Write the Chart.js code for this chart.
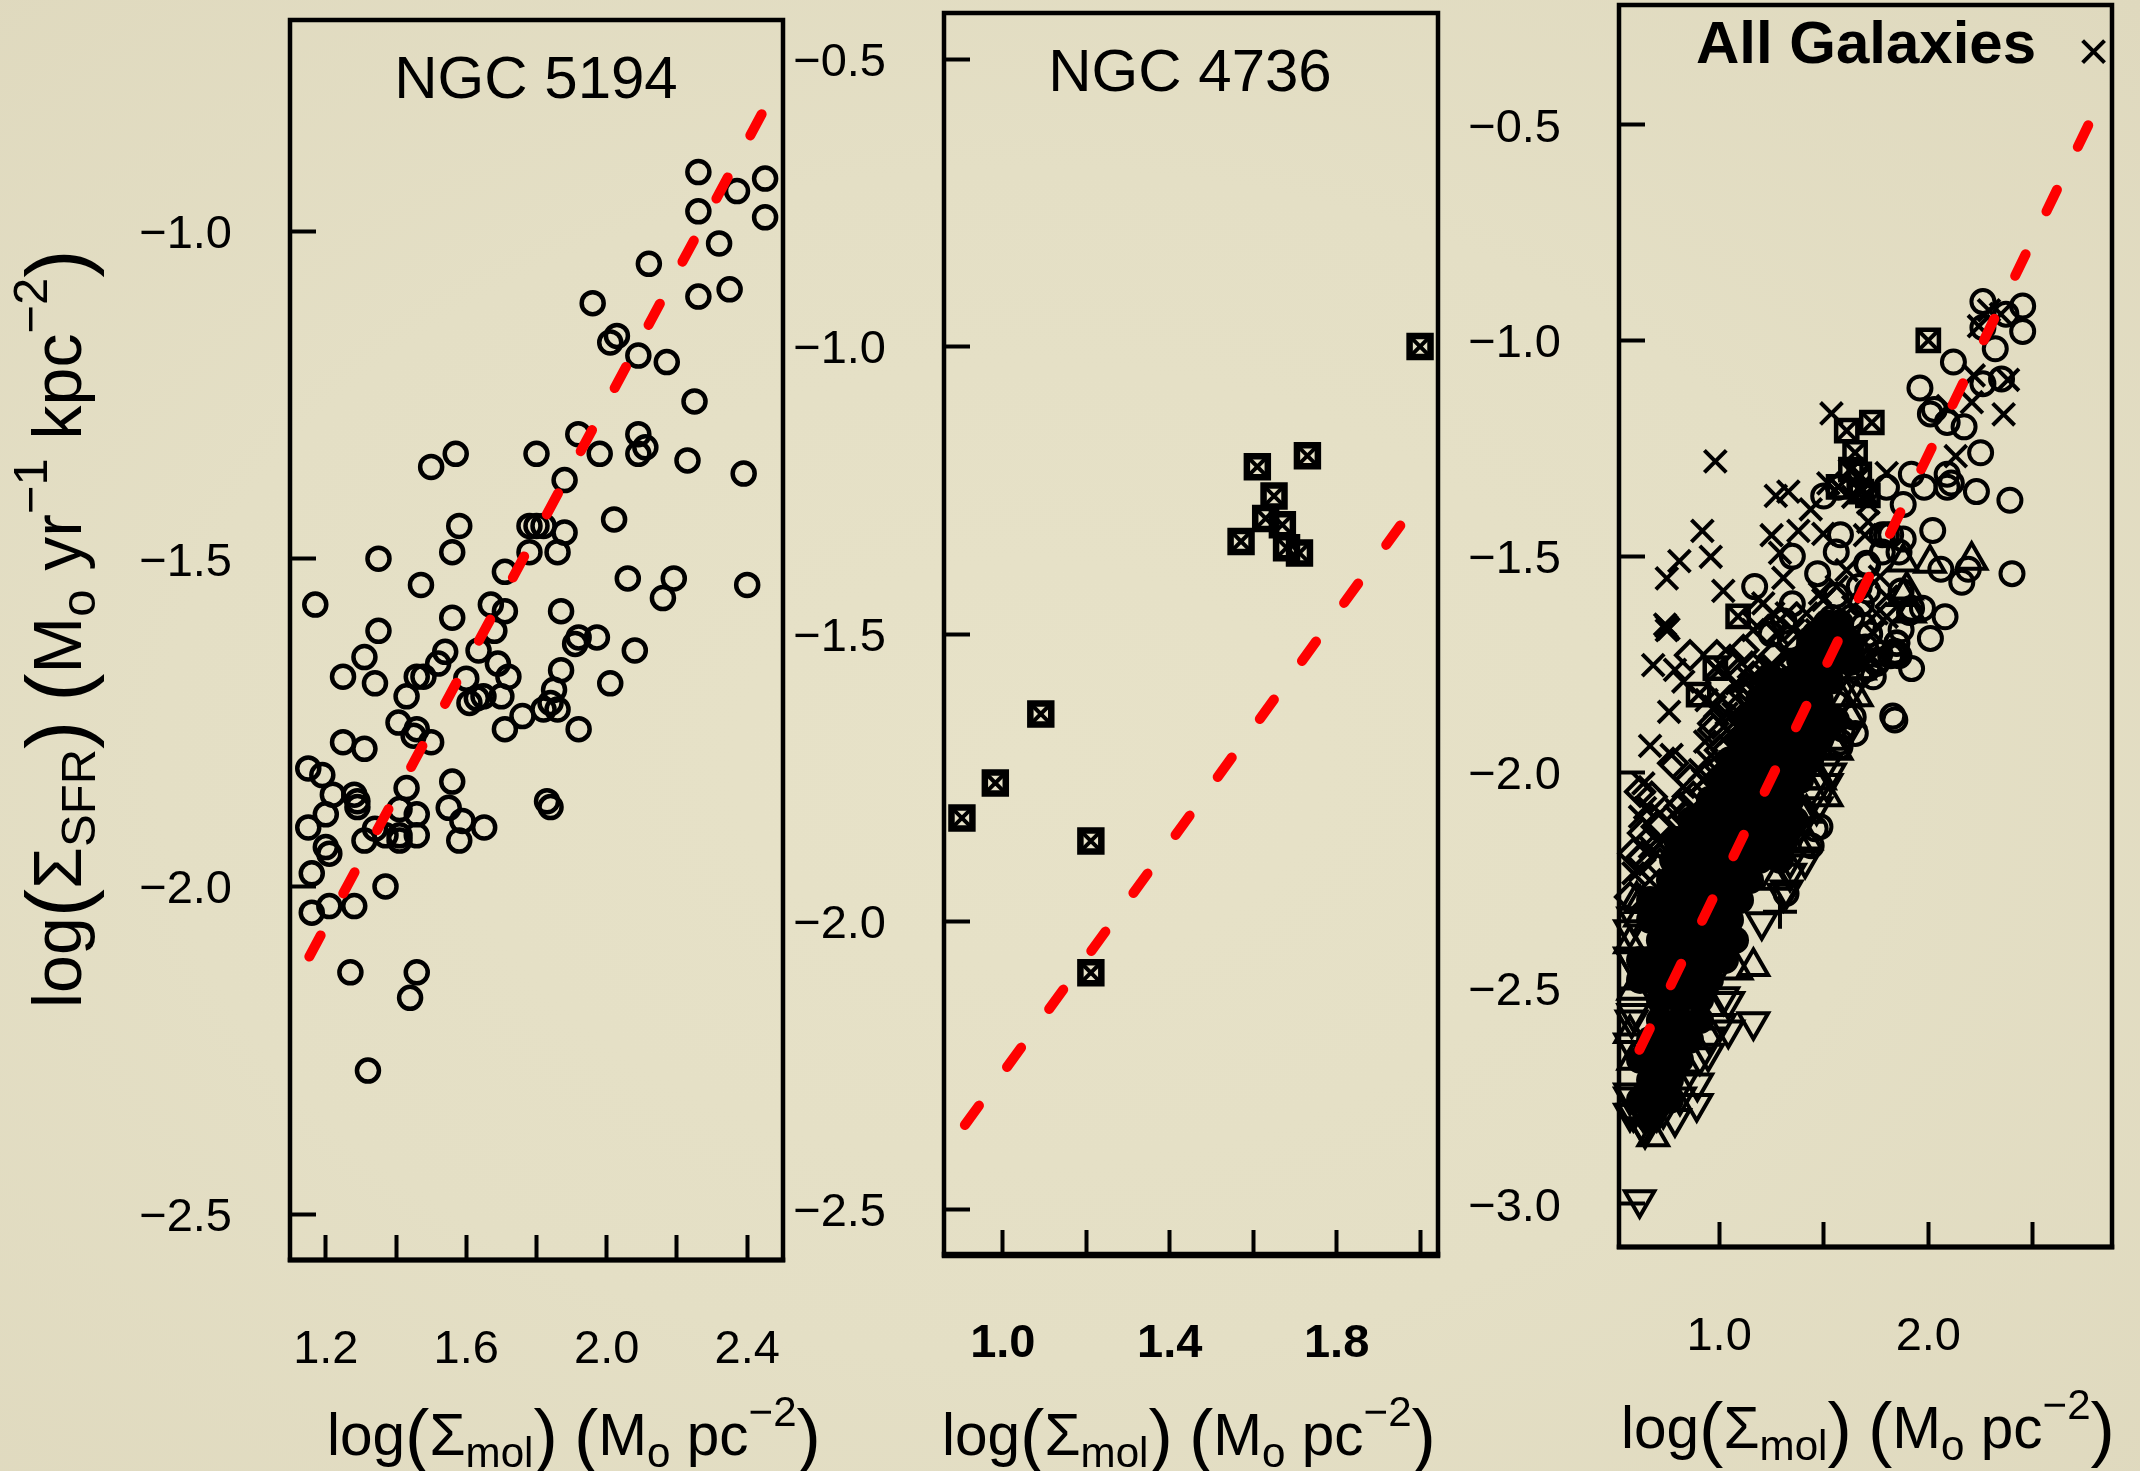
<!DOCTYPE html>
<html>
<head>
<meta charset="utf-8">
<title>Star formation vs molecular gas</title>
<script src="https://cdn.jsdelivr.net/npm/chart.js@4"></script>
<style>
  html, body { margin: 0; width: 2140px; height: 1471px; overflow: hidden; }
  body { background: radial-gradient(ellipse at 48% 52%, #e7e2c8 0%, #e4dfc5 55%, #dfd9be 100%); }
  canvas { position: absolute; top: -40px; }
</style>
</head>
<body>
<canvas id="panel5194"></canvas>
<canvas id="panel4736"></canvas>
<canvas id="panelAll"></canvas>
<script>
/* values, [log sigma mol, log sigma sfr] */
const circles5194 = [
  [2.261,-0.910],[2.451,-0.920],[2.371,-0.939],[2.261,-0.970],[2.451,-0.979],[2.320,-1.019],[2.120,-1.050],
  [2.261,-1.100],[2.350,-1.089],[1.960,-1.110],[2.029,-1.160],[2.010,-1.170],[2.090,-1.190],[2.171,-1.200],
  [2.250,-1.260],[1.919,-1.310],[1.980,-1.340],[2.090,-1.310],[2.110,-1.330],[2.090,-1.340],[2.230,-1.350],
  [2.390,-1.370],[1.800,-1.340],[1.570,-1.340],[1.500,-1.360],[1.880,-1.380],[1.580,-1.450],[1.780,-1.450],
  [1.800,-1.450],[1.820,-1.450],[1.880,-1.460],[2.021,-1.440],[1.780,-1.490],[1.860,-1.490],[1.560,-1.490],
  [1.350,-1.500],[1.710,-1.520],[1.471,-1.540],[2.060,-1.530],[2.191,-1.530],[2.160,-1.560],[2.400,-1.540],
  [1.170,-1.570],[1.670,-1.570],[1.710,-1.580],[1.870,-1.580],[1.560,-1.590],[1.350,-1.610],[1.680,-1.610],
  [1.635,-1.640],[1.310,-1.650],[1.249,-1.680],[1.340,-1.690],[1.540,-1.642],[1.520,-1.660],[1.459,-1.680],
  [1.478,-1.680],[1.690,-1.660],[1.720,-1.680],[1.600,-1.683],[1.430,-1.710],[1.910,-1.630],[1.920,-1.620],
  [1.972,-1.620],[2.080,-1.640],[1.870,-1.670],[2.010,-1.690],[1.850,-1.700],[1.840,-1.720],[1.820,-1.730],
  [1.860,-1.730],[1.760,-1.740],[1.710,-1.760],[1.920,-1.760],[1.700,-1.710],[1.649,-1.710],[1.630,-1.713],
  [1.609,-1.720],[1.407,-1.750],[1.459,-1.760],[1.450,-1.770],[1.500,-1.780],[1.249,-1.780],[1.310,-1.790],
  [1.430,-1.850],[1.560,-1.840],[1.150,-1.820],[1.190,-1.830],[1.220,-1.860],[1.281,-1.860],[1.290,-1.870],
  [1.290,-1.879],[1.200,-1.890],[1.150,-1.910],[1.550,-1.880],[1.589,-1.900],[1.651,-1.910],[1.580,-1.930],
  [1.410,-1.882],[1.459,-1.890],[1.459,-1.922],[1.410,-1.922],[1.410,-1.930],[1.370,-1.922],[1.340,-1.912],
  [1.310,-1.930],[1.200,-1.940],[1.210,-1.950],[1.830,-1.870],[1.840,-1.879],[1.160,-1.980],[1.370,-2.000],
  [1.210,-2.030],[1.281,-2.030],[1.160,-2.040],[1.270,-2.131],[1.459,-2.131],[1.440,-2.170],[1.320,-2.281]
];
const squares4736 = [
  [2.000,-1.000],[1.730,-1.190],[1.610,-1.209],[1.650,-1.260],[1.630,-1.299],[1.670,-1.310],[1.571,-1.339],
  [1.680,-1.350],[1.711,-1.359],[1.091,-1.639],[0.982,-1.759],[0.902,-1.820],[1.211,-1.860],[1.211,-2.089]
];
const crossesAll = [
  [2.790,-0.331],[2.217,-1.081],[2.381,-1.091],[2.208,-1.143],[2.360,-1.171],[2.093,-1.152],[2.131,-1.268],
  [2.290,-0.930],[2.347,-0.939],[2.242,-0.967],[1.537,-1.169],[0.982,-1.280],[1.271,-1.360],[1.331,-1.350],
  [1.438,-1.391],[1.522,-1.331],[1.801,-1.307],[0.920,-1.441],[0.960,-1.501],[0.810,-1.511],[0.750,-1.551],
  [1.020,-1.580],[1.251,-1.451],[1.379,-1.441],[1.498,-1.448],[1.291,-1.492],[1.307,-1.550],[1.713,-1.420],
  [1.697,-1.451],[0.750,-1.663],[0.750,-1.671],[0.742,-1.658],[0.758,-1.668],[0.685,-1.752],[0.789,-1.763],
  [0.829,-1.790],[0.761,-1.860],[0.670,-1.939],[0.773,-1.960],[0.933,-1.929],[0.829,-2.034],[0.638,-2.026],
  [0.646,-2.083],[0.980,-1.848],[1.004,-1.883],[1.211,-1.609],[1.259,-1.632],[1.323,-1.632],[1.163,-1.671],
  [1.275,-1.678],[1.355,-1.671],[1.418,-1.632],[1.498,-1.601],[1.562,-1.570],[1.482,-1.586],[1.609,-1.532],
  [1.769,-1.547],[1.801,-1.593],[1.753,-1.632],[1.801,-1.640],[1.737,-1.678],[1.705,-1.748],[1.466,-1.671],
  [1.546,-1.648],[1.641,-1.617],[1.625,-1.300],[1.673,-1.316],[1.705,-1.354],[1.641,-1.362],[1.570,-1.339],
  [1.713,-1.377],[1.673,-1.339],[1.004,-1.825],[1.068,-1.864],[1.100,-1.902],[0.908,-1.995],[0.717,-2.095],
  [0.908,-2.065],[0.622,-2.227],[0.669,-2.250],
  [0.940,-1.833],[1.084,-1.794],[1.243,-1.763],[1.386,-1.740],[1.195,-1.818],[1.036,-1.864],[1.052,-1.910],
  [0.940,-1.972],[0.924,-2.018],[0.797,-2.088],[0.669,-2.173],[0.733,-2.157],[1.084,-1.879],[1.227,-1.794],
  [0.622,-2.103],[0.590,-2.234]
];
const diamondsAll = [
  [0.861,-1.729],[0.989,-1.729],[1.116,-1.717],[1.187,-1.632],[1.235,-1.671],[1.156,-1.756],[1.091,-1.771],
  [1.211,-1.763],[1.124,-1.817],[0.622,-2.045],[0.678,-2.057],[0.780,-1.979],[0.636,-2.141],[0.631,-2.196],
  [0.702,-2.126],[0.861,-2.018],[1.259,-1.732],[1.370,-1.717],[1.323,-1.756],[1.227,-1.779],[1.131,-1.802],
  [1.052,-1.740],[0.972,-1.902],[1.036,-1.949],[0.988,-2.018],[0.813,-2.080],[0.669,-2.157],[0.717,-2.211],
  [0.781,-2.165],
  [1.004,-1.794],[1.163,-1.779],[1.323,-1.748],[1.116,-1.841],[0.972,-1.887],[1.004,-1.949],[1.004,-1.987],
  [0.877,-2.057],[0.717,-2.126],[0.622,-2.203],[0.845,-2.103],[1.147,-1.864],[1.291,-1.779],[1.434,-1.725],
  [0.590,-2.188],[0.574,-2.289]
];
const trianglesUpAll = [
  [2.207,-1.509],[2.008,-1.516],[1.880,-1.513],[1.897,-1.578],[1.912,-1.631],[1.164,-2.450],[0.685,-2.844],
  [1.658,-1.825],[1.514,-2.057],[1.880,-1.593],[1.546,-1.926],[1.609,-1.825],[1.418,-2.157],[1.084,-2.458],
  [0.606,-2.296],[0.622,-2.335],[0.622,-2.304],[0.590,-2.505],[0.574,-2.605],[0.590,-2.667],[0.574,-2.397],
  [1.625,-1.872],[1.562,-1.949],[1.482,-2.018],[1.418,-2.095],[1.386,-2.173],[1.275,-2.250],[1.673,-1.763]
];
const trianglesDownAll = [
  [1.164,-2.578],[1.044,-2.597],[1.044,-2.531],[0.948,-2.651],[0.896,-2.720],[0.893,-2.767],[0.789,-2.802],
  [1.204,-2.346],[1.307,-2.280],[0.646,-2.829],[0.620,-2.990],[0.574,-2.790],[0.574,-2.365],[0.582,-2.574],
  [0.574,-2.627],[0.574,-2.743],[0.636,-2.790],[0.702,-2.790],[0.582,-2.435],[1.530,-2.002],[1.411,-2.203],
  [1.323,-2.273],[1.514,-2.026],[1.466,-2.080],[1.339,-2.234],[1.020,-2.520],[1.004,-2.582],[0.956,-2.613],
  [0.908,-2.659],[0.829,-2.713],[0.813,-2.752],[0.733,-2.783],[0.590,-2.335],[0.574,-2.428],[0.590,-2.559],
  [0.574,-2.752],[0.590,-2.790],[0.638,-2.783],[0.701,-2.783],[0.638,-2.821],[0.669,-2.744],
  [1.609,-1.910],[1.514,-1.980],[1.450,-2.057],[1.386,-2.126],[1.339,-2.203],[1.641,-1.802]
];
const extraCirclesAll = [
  [1.705,-1.516],[1.769,-1.725],[1.849,-1.702],[1.849,-1.725],[1.578,-1.941],[1.641,-1.872],[1.482,-2.126],
  [1.673,-1.771],[1.753,-1.748],[1.833,-1.725],[1.737,-1.779]
];
const plusesAll = [[1.291,-2.323]];
/* overplotted part of the All Galaxies cloud, single symbols cannot be told apart here */
const solidCoreAll = [
  [1.514,-1.655],[1.578,-1.655],[1.625,-1.700],[1.625,-1.745],
  [1.435,-1.694],[1.530,-1.694],
  [1.387,-1.740],[1.482,-1.740],[1.578,-1.740],
  [1.243,-1.786],[1.339,-1.786],[1.435,-1.786],[1.530,-1.786],
  [1.195,-1.833],[1.291,-1.833],[1.387,-1.833],[1.482,-1.833],
  [1.148,-1.879],[1.243,-1.879],[1.339,-1.879],[1.435,-1.879],[1.530,-1.879],[1.558,-1.879],
  [1.100,-1.925],[1.195,-1.925],[1.291,-1.925],[1.387,-1.925],[1.482,-1.925],
  [1.052,-1.972],[1.148,-1.972],[1.243,-1.972],[1.339,-1.972],[1.435,-1.972],
  [1.004,-2.018],[1.100,-2.018],[1.195,-2.018],[1.291,-2.018],[1.387,-2.018],
  [0.956,-2.064],[1.052,-2.064],[1.148,-2.064],[1.243,-2.064],[1.339,-2.064],
  [0.866,-2.111],[0.909,-2.111],[1.004,-2.111],[1.100,-2.111],[1.195,-2.111],[1.291,-2.111],[1.363,-2.111],
  [0.799,-2.157],[0.861,-2.157],[0.956,-2.157],[1.052,-2.157],[1.148,-2.157],[1.243,-2.157],[1.315,-2.157],
  [0.780,-2.203],[0.813,-2.203],[0.909,-2.203],[1.004,-2.203],[1.100,-2.203],[1.195,-2.203],[1.291,-2.203],
  [0.765,-2.250],[0.861,-2.250],[0.956,-2.250],[1.052,-2.250],[1.148,-2.250],
  [0.670,-2.296],[0.741,-2.296],[0.813,-2.296],[0.909,-2.296],[1.004,-2.296],[1.100,-2.296],
  [0.670,-2.342],[0.765,-2.342],[0.861,-2.342],[0.956,-2.342],[1.052,-2.342],
  [0.717,-2.389],[0.813,-2.389],[0.909,-2.389],[1.004,-2.389],[1.076,-2.389],
  [0.622,-2.435],[0.670,-2.435],[0.765,-2.435],[0.861,-2.435],[0.956,-2.435],[1.028,-2.435],
  [0.622,-2.481],[0.670,-2.481],[0.765,-2.481],[0.861,-2.481],[0.956,-2.481],
  [0.717,-2.527],[0.813,-2.527],[0.909,-2.527],
  [0.717,-2.574],[0.813,-2.574],[0.909,-2.574],
  [0.670,-2.620],[0.765,-2.620],[0.861,-2.620],
  [0.622,-2.666],[0.717,-2.666],[0.813,-2.666],
  [0.670,-2.713],[0.765,-2.713],
  [0.622,-2.759],[0.693,-2.759],[0.765,-2.759],
  [0.670,-2.805]
];

const fitX5194 = [1.153, 2.447];
const fitY5194 = [-2.107, -0.816];
const fitX4736 = [0.909, 1.958];
const fitY4736 = [-2.354, -1.306];
const fitXAll = [0.619, 2.769];
const fitYAll = [-2.643, -0.497];

const xTicks5194 = [1.2, 1.4, 1.6, 1.8, 2.0, 2.2, 2.4];
const xLabels5194 = ["1.2", "", "1.6", "", "2.0", "", "2.4"];
const yTicks5194 = [-1.0, -1.5, -2.0, -2.5];
const yLabels5194 = ["−1.0", "−1.5", "−2.0", "−2.5"];

const xTicks4736 = [1.0, 1.2, 1.4, 1.6, 1.8, 2.0];
const xLabels4736 = ["1.0", "", "1.4", "", "1.8", ""];
const yTicks4736 = [-0.5, -1.0, -1.5, -2.0, -2.5];
const yLabels4736 = ["−0.5", "−1.0", "−1.5", "−2.0", "−2.5"];

const xTicksAll = [1.0, 1.5, 2.0, 2.5];
const xLabelsAll = ["1.0", "", "2.0", ""];
const yTicksAll = [-0.5, -1.0, -1.5, -2.0, -2.5, -3.0];
const yLabelsAll = ["−0.5", "−1.0", "−1.5", "−2.0", "−2.5", "−3.0"];

const FONT = "'Liberation Sans'";
const TOP_SHIFT = 40; // canvases start above the page, the layout keeps a minimum top margin

/* axis titles, pieces of different size: s = size factor, d = shift down in em */
const xTitleRuns = [
  { t: "log" }, { t: "(", s: 1.25, d: 0.08 }, { t: "Σ" }, { t: "mol", s: 0.72, d: 0.2 }, { t: ")", s: 1.25, d: 0.08 },
  { t: " " }, { t: "(", s: 1.25, d: 0.08 }, { t: "M" }, { t: "o", s: 0.72, d: 0.2 }, { t: " pc" },
  { t: "−2", s: 0.72, d: -0.5 }, { t: ")", s: 1.25, d: 0.08 }
];
const yTitleRuns = [
  { t: "log" }, { t: "(", s: 1.25, d: 0.08 }, { t: "Σ" }, { t: "SFR", s: 0.72, d: 0.2 }, { t: ")", s: 1.25, d: 0.08 },
  { t: " " }, { t: "(", s: 1.25, d: 0.08 }, { t: "M" }, { t: "o", s: 0.72, d: 0.2 }, { t: " yr" },
  { t: "−1", s: 0.72, d: -0.5 }, { t: " kpc" }, { t: "−2", s: 0.72, d: -0.5 }, { t: ")", s: 1.25, d: 0.08 }
];

const drawRuns = function (ctx, runs, size) {
  let x = 0;
  for (let i = 0; i < runs.length; i++) {
    const r = runs[i];
    ctx.font = (r.s || 1) * size + "px " + FONT;
    ctx.fillText(r.t, x, (r.d || 0) * size);
    x += ctx.measureText(r.t).width;
  }
}

/* frame round the plot, heading and axis titles */
const panelDecor = {
  id: "panelDecor",
  afterDraw(chart, args, o) {
    const ctx = chart.ctx;
    const a = chart.chartArea;
    ctx.save();
    ctx.strokeStyle = "#000";
    ctx.lineWidth = o.frame;
    ctx.strokeRect(a.left, a.top, a.right - a.left, a.bottom - a.top);
    ctx.lineWidth = o.frameBottom;
    ctx.beginPath();
    ctx.moveTo(a.left - o.frame / 2, a.bottom);
    ctx.lineTo(a.right + o.frame / 2, a.bottom);
    ctx.stroke();

    ctx.fillStyle = "#000";
    ctx.textBaseline = "alphabetic";
    ctx.textAlign = "center";
    ctx.font = (o.titleBold ? "bold " : "") + "60px " + FONT;
    ctx.fillText(o.title, o.titleX, o.titleY + TOP_SHIFT);

    ctx.textAlign = "left";
    ctx.save();
    ctx.translate(o.xTitleX, o.xTitleY + TOP_SHIFT);
    drawRuns(ctx, xTitleRuns, 58.5);
    ctx.restore();

    if (o.yTitle) {
      ctx.save();
      ctx.translate(81, 1008 + TOP_SHIFT);
      ctx.rotate(-Math.PI / 2);
      drawRuns(ctx, yTitleRuns, 68);
      ctx.restore();
    }
    ctx.restore();
  }
};

const toPoints = function (list) {
  return list.map(function (p) { return { x: p[0], y: p[1] }; });
}

const marks = function (list, style, radius, width, extra) {
  return Object.assign({
    data: toPoints(list),
    pointStyle: style,
    pointRadius: radius,
    pointBorderWidth: width,
    pointBorderColor: "#000",
    pointBackgroundColor: "transparent",
    clip: false
  }, extra);
}

const fitLine = function (xs, ys) {
  return {
    data: xs.map(function (x, i) { return { x: x, y: ys[i] }; }),
    showLine: true,
    borderColor: "#ff0000",
    borderWidth: 10,
    borderDash: [24, 47.7],
    borderCapStyle: "round",
    pointRadius: 0,
    clip: false
  };
}

const zeroPadding = function (axis) {
  axis.paddingTop = 0;
  axis.paddingBottom = 0;
  axis.paddingLeft = 0;
  axis.paddingRight = 0;
}

const makePanel = function (id, p) {
  const canvas = document.getElementById(id);
  canvas.width = p.canvasW;
  canvas.height = 1471 + TOP_SHIFT;
  canvas.style.left = p.canvasX + "px";

  new Chart(canvas, {
    type: "scatter",
    data: { datasets: p.datasets },
    plugins: [panelDecor],
    options: {
      responsive: false,
      animation: false,
      events: [],
      layout: { padding: { top: p.top + TOP_SHIFT, right: p.canvasW - (p.right - p.canvasX), left: 0, bottom: 0 } },
      plugins: {
        legend: { display: false },
        tooltip: { enabled: false },
        panelDecor: {
          frame: 4.5,
          frameBottom: p.frameBottom,
          title: p.title,
          titleBold: p.titleBold,
          titleX: p.titleX - p.canvasX,
          titleY: p.titleY,
          xTitleX: p.xTitleX - p.canvasX,
          xTitleY: p.xTitleY,
          yTitle: p.yTitle
        }
      },
      scales: {
        x: {
          type: "linear",
          min: p.xMin,
          max: p.xMax,
          border: { display: false },
          grid: { drawOnChartArea: false, tickColor: "#000", tickWidth: 4, tickLength: -25 },
          ticks: {
            autoSkip: false,
            maxRotation: 0,
            color: "#000",
            padding: p.xPad,
            font: { family: FONT, size: 47, weight: p.xBold ? "bold" : "normal" },
            callback: function (v, i) { return p.xLabels[i]; }
          },
          afterBuildTicks: function (axis) { axis.ticks = p.xTicks.map(function (v) { return { value: v }; }); },
          afterFit: function (axis) { axis.height = 1471 - p.bottom; zeroPadding(axis); }
        },
        y: {
          type: "linear",
          min: p.yMin,
          max: p.yMax,
          border: { display: false },
          grid: { drawOnChartArea: false, tickColor: "#000", tickWidth: 4, tickLength: -26 },
          ticks: {
            autoSkip: false,
            color: "#000",
            padding: 84,
            labelOffset: 4,
            font: { family: FONT, size: 47 },
            callback: function (v, i) { return p.yLabels[i]; }
          },
          afterBuildTicks: function (axis) { axis.ticks = p.yTicks.map(function (v) { return { value: v }; }); },
          afterFit: function (axis) { axis.width = p.left - p.canvasX; zeroPadding(axis); }
        }
      }
    }
  });
}

makePanel("panel5194", {
  canvasX: 0, canvasW: 900, left: 290, right: 783, top: 20, bottom: 1260, frameBottom: 5,
  xMin: 1.098, xMax: 2.502, yMin: -2.570, yMax: -0.678,
  xTicks: xTicks5194, xLabels: xLabels5194, yTicks: yTicks5194, yLabels: yLabels5194, xPad: 87,
  title: "NGC 5194", titleX: 536, titleY: 98,
  xTitleX: 327, xTitleY: 1455, yTitle: true,
  datasets: [fitLine(fitX5194, fitY5194), marks(circles5194, "circle", 11, 4.5)]
});

makePanel("panel4736", {
  canvasX: 790, canvasW: 670, left: 944, right: 1438, top: 13, bottom: 1255, frameBottom: 6.5,
  xMin: 0.859, xMax: 2.043, yMin: -2.580, yMax: -0.420,
  xTicks: xTicks4736, xLabels: xLabels4736, yTicks: yTicks4736, yLabels: yLabels4736, xPad: 86, xBold: true,
  title: "NGC 4736", titleX: 1190, titleY: 91,
  xTitleX: 942, xTitleY: 1455,
  datasets: [
    fitLine(fitX4736, fitY4736),
    marks(squares4736, "crossRot", 14, 4),
    marks(squares4736, "rect", 14.8, 6.5)
  ]
});

makePanel("panelAll", {
  canvasX: 1460, canvasW: 680, left: 1619, right: 2112, top: 5, bottom: 1247, frameBottom: 5,
  xMin: 0.5215, xMax: 2.878, yMin: -3.0996, yMax: -0.223,
  xTicks: xTicksAll, xLabels: xLabelsAll, yTicks: yTicksAll, yLabels: yLabelsAll, xPad: 87,
  title: "All Galaxies", titleBold: true, titleX: 1866, titleY: 63,
  xTitleX: 1621, xTitleY: 1448,
  datasets: [
    fitLine(fitXAll, fitYAll),
    marks(squares4736, "crossRot", 14.8, 4),
    marks(squares4736, "rect", 15, 4.5),
    marks(circles5194, "circle", 11.5, 4),
    marks(extraCirclesAll, "circle", 11.5, 4),
    marks(crossesAll, "crossRot", 15.5, 4),
    marks(diamondsAll, "rectRot", 14, 4),
    marks(trianglesUpAll, "triangle", 17, 4),
    marks(trianglesDownAll, "triangle", 17, 4, { pointRotation: 180 }),
    marks(plusesAll, "cross", 17, 4),
    marks(solidCoreAll, "circle", 14, 0, { pointBackgroundColor: "#000" })
  ]
});
</script>
</body>
</html>
